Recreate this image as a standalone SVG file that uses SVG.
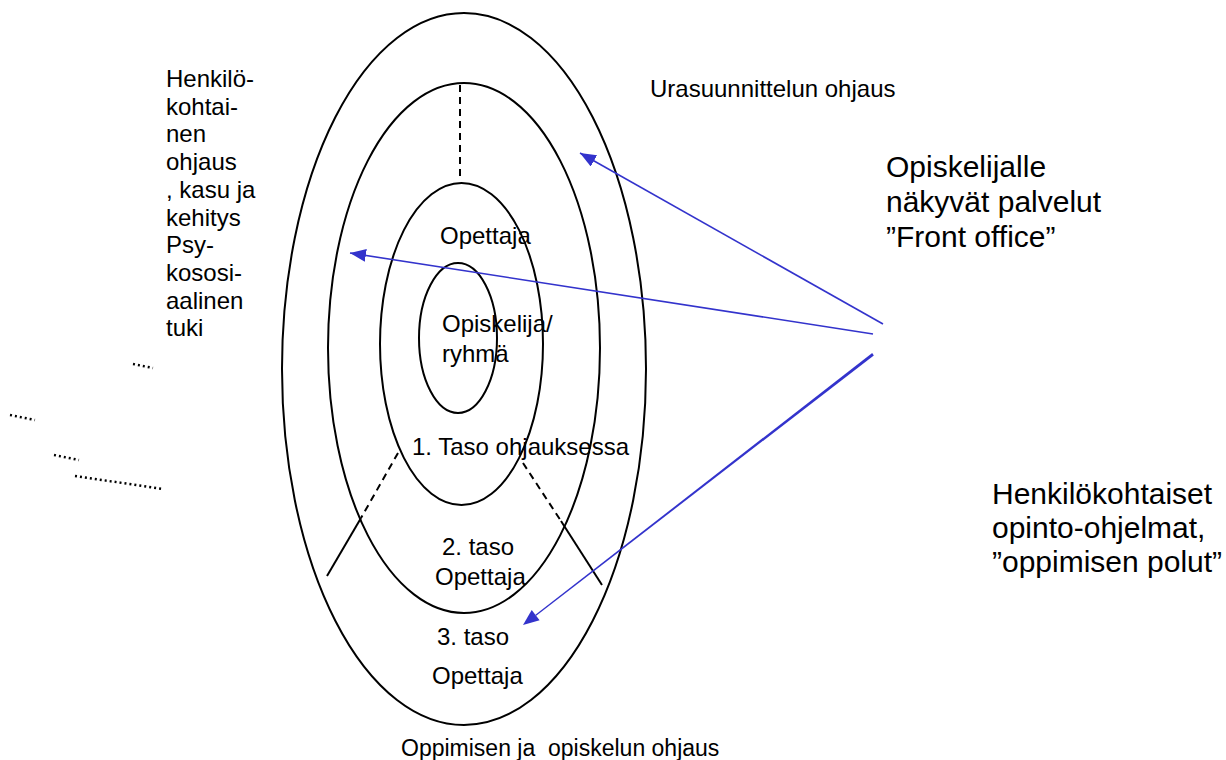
<svg xmlns="http://www.w3.org/2000/svg" width="1226" height="760" viewBox="0 0 1226 760">
<style>
.e{fill:none;stroke:#000;stroke-width:2}
.d{fill:none;stroke:#000;stroke-width:2;stroke-dasharray:7 5}
.s{fill:none;stroke:#000;stroke-width:2}
.t{font-family:"Liberation Sans",Arial,sans-serif;font-size:24px;fill:#000}
.T{font-family:"Liberation Sans",Arial,sans-serif;font-size:30px;fill:#000}
.a{stroke:#3333cc;fill:none;stroke-width:1.6}
.h{fill:#3333cc;stroke:none}
.dot{fill:none;stroke:#000;stroke-width:2.5;stroke-dasharray:2 3}
</style>
<defs>
<marker id="ah" markerUnits="userSpaceOnUse" markerWidth="18" markerHeight="14" refX="16" refY="6.5" orient="auto">
<path d="M0,0 L16,6.5 L0,13 z" fill="#3333cc"/>
</marker>
</defs>
<rect width="1226" height="760" fill="#fff"/>
<g id="ring-outer"><ellipse class="e" cx="464" cy="369" rx="182" ry="356"/></g>
<g id="ring-2"><ellipse class="e" cx="464" cy="348" rx="136" ry="265"/></g>
<g id="ring-3"><ellipse class="e" cx="461.5" cy="344" rx="81.5" ry="161"/></g>
<g id="ring-inner"><ellipse class="e" cx="458" cy="338" rx="39" ry="75"/></g>
<g id="dividers">
<line class="d" x1="460" y1="85" x2="460" y2="176"/>
<line class="d" x1="398" y1="453" x2="361" y2="518"/>
<line class="s" x1="361" y1="518" x2="327" y2="576"/>
<line class="d" x1="523" y1="463" x2="561" y2="521"/>
<line class="s" x1="561" y1="521" x2="602" y2="585"/>
</g>
<g id="dots">
<line class="dot" x1="133" y1="364" x2="153" y2="368"/>
<line class="dot" x1="10" y1="415" x2="35" y2="420"/>
<line class="dot" x1="54" y1="455" x2="79" y2="460"/>
<line class="dot" x1="75" y1="476" x2="163" y2="489"/>
</g>
<g id="connectors">
<line class="a" x1="883" y1="324" x2="580" y2="153" marker-end="url(#ah)"/>
<line class="a" x1="873" y1="334" x2="350" y2="253" marker-end="url(#ah)"/>
<polygon class="h" points="872.2,353 873.8,355.4 536.2,615.8 535.4,614.8"/>
<polygon class="h" points="523,625 539.6,620.3 531.7,610.1"/>
</g>
<g id="label-left">
<text class="t" x="166" y="87">Henkilö-</text>
<text class="t" x="166" y="114.7">kohtai-</text>
<text class="t" x="166" y="142.4">nen</text>
<text class="t" x="166" y="170.1">ohjaus</text>
<text class="t" x="166" y="197.8">, kasu ja</text>
<text class="t" x="166" y="225.5">kehitys</text>
<text class="t" x="166" y="253.2">Psy-</text>
<text class="t" x="166" y="280.9">kososi-</text>
<text class="t" x="166" y="308.6">aalinen</text>
<text class="t" x="166" y="336.3">tuki</text>
</g>
<g id="label-ura"><text class="t" x="650" y="97">Urasuunnittelun ohjaus</text></g>
<g id="label-front">
<text class="T" x="886" y="177">Opiskelijalle</text>
<text class="T" x="886" y="212">näkyvät palvelut</text>
<text class="T" x="886" y="247">”Front office”</text>
</g>
<g id="label-polut">
<text class="T" x="992" y="504">Henkilökohtaiset</text>
<text class="T" x="992" y="538">opinto-ohjelmat,</text>
<text class="T" x="992" y="572">”oppimisen polut”</text>
</g>
<g id="label-opettaja1"><text class="t" x="440" y="244">Opettaja</text></g>
<g id="label-opiskelija">
<text class="t" x="442" y="332">Opiskelija/</text>
<text class="t" x="442" y="362">ryhmä</text>
</g>
<g id="label-taso1"><text class="t" x="412" y="455">1. Taso ohjauksessa</text></g>
<g id="label-taso2">
<text class="t" x="442" y="555">2. taso</text>
<text class="t" x="435" y="585">Opettaja</text>
</g>
<g id="label-taso3">
<text class="t" x="437" y="645">3. taso</text>
<text class="t" x="432" y="684">Opettaja</text>
</g>
<g id="label-bottom"><text class="t" x="401" y="756" style="font-size:23px" xml:space="preserve">Oppimisen ja  opiskelun ohjaus</text></g>
</svg>
